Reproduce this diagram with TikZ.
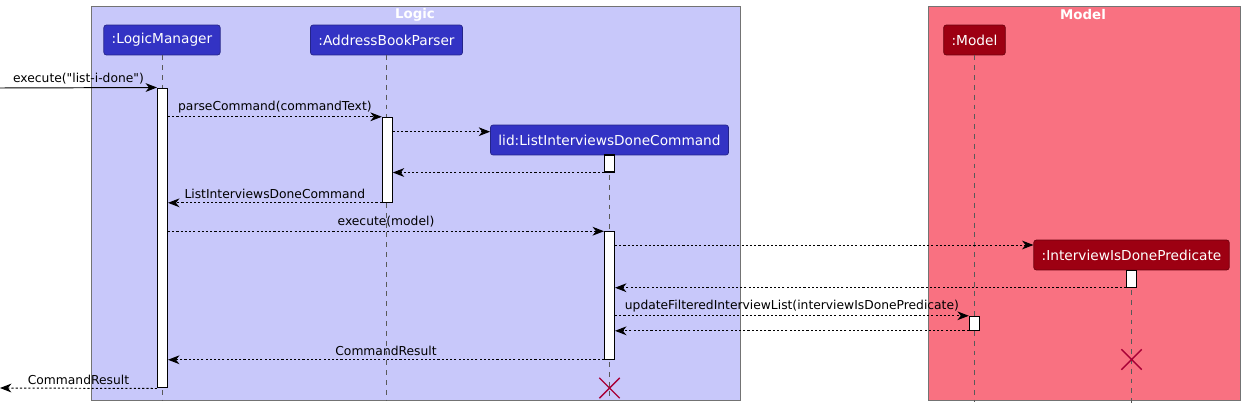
\documentclass[tikz,border=0pt]{standalone}
\usepackage{fontspec}
\setmainfont{DejaVu Sans}[Ligatures=TeXOff]
\usetikzlibrary{arrows.meta, shapes.misc}
\definecolor{logicbg}{HTML}{C8C8FA}
\definecolor{logicfg}{HTML}{3333C4}
\definecolor{modelbg}{HTML}{F97181}
\definecolor{modelfg}{HTML}{9D0012}
\definecolor{killred}{HTML}{A80036}
\tikzstyle{part} = [rounded corners=1.5pt, text=white, minimum height=0.6cm, inner xsep=4.5pt, font=\fontsize{7.8}{9}\selectfont, line width=0.4pt]
\tikzstyle{bar} = [draw=black, fill=white, minimum width=0.2cm, inner sep=0pt, line width=0.6pt]
\tikzstyle{life} = [draw=black!65, line width=0.5pt, dash pattern=on 2.8pt off 2.8pt]
\tikzstyle{msg} = [->, >={Stealth[length=6.5pt,width=5pt,inset=2pt]}, line width=0.55pt, dash pattern=on 1.2pt off 1.2pt]
\tikzstyle{lbl} = [midway, above, inner sep=1.8pt, font=\fontsize{7}{8}\selectfont]
\tikzstyle{grp} = [text=white, font=\bfseries\fontsize{7.6}{9}\selectfont]
\tikzstyle{killx} = [draw=killred, cross out, minimum size=0.38cm, line width=0.8pt, inner sep=0pt]

\begin{document}
\begin{tikzpicture}[x=0.02cm,y=-0.02cm]

\useasboundingbox[fill=white] (0,0) rectangle (1245,412);

%packages
\draw[fill=logicbg, draw=black!55] (91.5,6.5) rectangle (740.5,400.5);
\draw[fill=modelbg, draw=black!55] (928.5,6.5) rectangle (1240.5,400.5);
\node[grp] (logicT) at (415,14.5) {Logic};
\node[grp] (modelT) at (1083,14.5) {Model};

\node[part, fill=logicfg, draw=logicfg!70!black] (lm) at (162,40) {:LogicManager};
\node[part, fill=logicfg, draw=logicfg!70!black] (abp) at (386.5,40) {:AddressBookParser};
\node[part, fill=logicfg, draw=logicfg!70!black] (lid) at (609.5,140) {lid:ListInterviewsDoneCommand};
\node[part, fill=modelfg, draw=modelfg!70!black] (mod) at (974.5,40) {:Model};
\node[part, fill=modelfg, draw=modelfg!70!black] (pred) at (1131.5,255) {:InterviewIsDonePredicate};

\foreach \p/\e in {lm/401, abp/401, lid/401, mod/402, pred/405}
{
\draw[life] (\p.south) -- (\p.south |- 0,\e);
}

%activations
\node[bar, minimum height=6cm] (lmA) at (162.5,238) {};
\node[bar, minimum height=1.7cm] (abpA) at (387.3,159.8) {};
\node[bar, minimum height=0.34cm] (lidA1) at (609.5,163.5) {};
\node[bar, minimum height=2.55cm] (lidA2) at (609.5,295.5) {};
\node[bar, minimum height=0.34cm] (predA) at (1131.5,278.7) {};
\node[bar, minimum height=0.28cm] (modA) at (974.3,323.3) {};

\coordinate (callIn) at (0,88);
\coordinate (callOut) at (0,388);

\draw[msg, solid] (callIn) -- (lmA.north west) node[lbl] {execute("list-i-done")};
\draw[msg] (lmA.east |- abpA.north) -- (abpA.north west) node[lbl] {parseCommand(commandText)};
\draw[msg] (abpA.east |- 0,131.7) -- (lid.west |- 0,131.7);
\draw[msg] (lidA1.south west) -- (abpA.east |- lidA1.south);
\draw[msg] (abpA.south west) -- (lmA.east |- abpA.south) node[lbl] {ListInterviewsDoneCommand};
\draw[msg] (lmA.east |- lidA2.north) -- (lidA2.north west) node[lbl] {execute(model)};
\draw[msg] (lidA2.east |- 0,245) -- (pred.west |- 0,245);
\draw[msg] (predA.south west) -- (lidA2.east |- predA.south);
\draw[msg] (lidA2.east |- modA.north) -- (modA.north west) node[lbl] {updateFilteredInterviewList(interviewIsDonePredicate)};
\draw[msg] (modA.south west) -- (lidA2.east |- modA.south);
\draw[msg] (lidA2.south west) -- (lmA.east |- lidA2.south) node[lbl] {CommandResult};
\draw[msg] (lmA.south west) -- (callOut) node[lbl] {CommandResult};

%destroyed
\node[killx] (lidX) at (609.5,388) {};
\node[killx] (predX) at (1131.5,359.5) {};

\end{tikzpicture}
\end{document}
